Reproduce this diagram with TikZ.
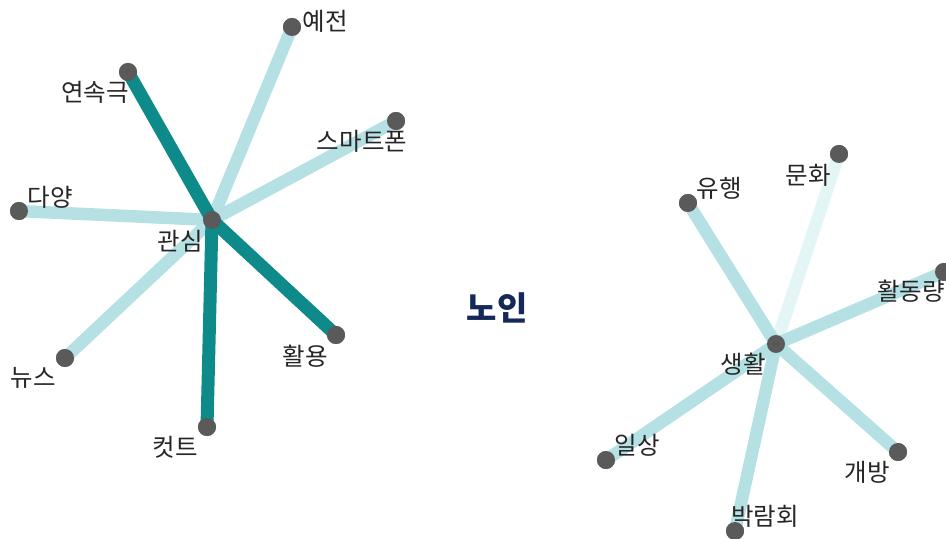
\documentclass[tikz,border=0pt]{standalone}
\usepackage{fontspec}
\setmainfont{Noto Sans CJK KR}
\definecolor{dark}{HTML}{0E8A8A}
\definecolor{light}{HTML}{B6E1E4}
\definecolor{faint}{HTML}{E4F5F5}
\definecolor{dotc}{HTML}{5A5A5A}
\definecolor{navy}{HTML}{14285A}
\begin{document}
\begin{tikzpicture}[x=1bp,y=-1bp,
  dot/.style={circle,fill=dotc,inner sep=0pt,minimum size=18bp},
  lbl/.style={font=\fontsize{24.5bp}{26bp}\selectfont,text=black!85,inner sep=0pt},
  strong/.style={draw=dark,line width=13bp},
  weak/.style={draw=light,line width=12.5bp},
  faintedge/.style={draw=faint,line width=12.5bp}]
\useasboundingbox (0,0) rectangle (946,539);
\clip (0,0) rectangle (946,539);
% left cluster
\coordinate (c1) at (212,220);
\node[dot] (yejeon) at (292,27) {};
\node[dot] (yeonsok) at (128,72) {};
\node[dot] (smart) at (396,121) {};
\node[dot] (dayang) at (19,211) {};
\node[dot] (news) at (65,358) {};
\node[dot] (cut) at (207,427) {};
\node[dot] (hwal) at (336,335) {};
\draw[weak] (c1) -- (yejeon.center);
\draw[weak] (c1) -- (smart.center);
\draw[weak] (c1) -- (dayang.center);
\draw[weak] (c1) -- (news.center);
\draw[strong] (c1) -- (yeonsok.center);
\draw[strong] (c1) -- (cut.center);
\draw[strong] (c1) -- (hwal.center);
\node[dot] (gwan) at (c1) {};
\foreach \n in {yejeon,yeonsok,smart,dayang,news,cut,hwal} {\node[dot] at (\n) {};}
\node[lbl] (l1) at (325,21) {예전};
\node[lbl] (l2) at (95,92) {연속극};
\node[lbl] (l3) at (362,141) {스마트폰};
\node[lbl] (l4) at (50,197) {다양};
\node[lbl] (l5) at (33,378) {뉴스};
\node[lbl] (l6) at (175,447) {컷트};
\node[lbl] (l7) at (305,356) {활용};
\node[lbl] (l8) at (180,241) {관심};
% title
\node[font=\bfseries\fontsize{33bp}{35bp}\selectfont,text=navy,inner sep=0pt] (title) at (497,308) {노인};
% right cluster
\coordinate (c2) at (776,344);
\node[dot] (yuhaeng) at (688,203) {};
\node[dot] (munhwa) at (839,154) {};
\node[dot] (hwaldong) at (944,272) {};
\node[dot] (ilsang) at (606,460) {};
\node[dot] (bakram) at (735,531) {};
\node[dot] (gaebang) at (898,452) {};
\draw[faintedge] (c2) -- (munhwa.center);
\draw[weak] (c2) -- (yuhaeng.center);
\draw[weak] (c2) -- (hwaldong.center);
\draw[weak] (c2) -- (ilsang.center);
\draw[weak] (c2) -- (bakram.center);
\draw[weak] (c2) -- (gaebang.center);
\node[dot] (saeng) at (c2) {};
\foreach \n in {yuhaeng,munhwa,hwaldong,ilsang,bakram,gaebang} {\node[dot] at (\n) {};}
\node[lbl] (r1) at (719,188) {유행};
\node[lbl] (r2) at (808,175) {문화};
\node[lbl,anchor=west] (r3) at (877,291) {활동량};
\node[lbl] (r4) at (637,445) {일상};
\node[lbl] (r5) at (765,516) {박람회};
\node[lbl] (r6) at (867,472) {개방};
\node[lbl] (r7) at (743,364) {생활};
\end{tikzpicture}
\end{document}
